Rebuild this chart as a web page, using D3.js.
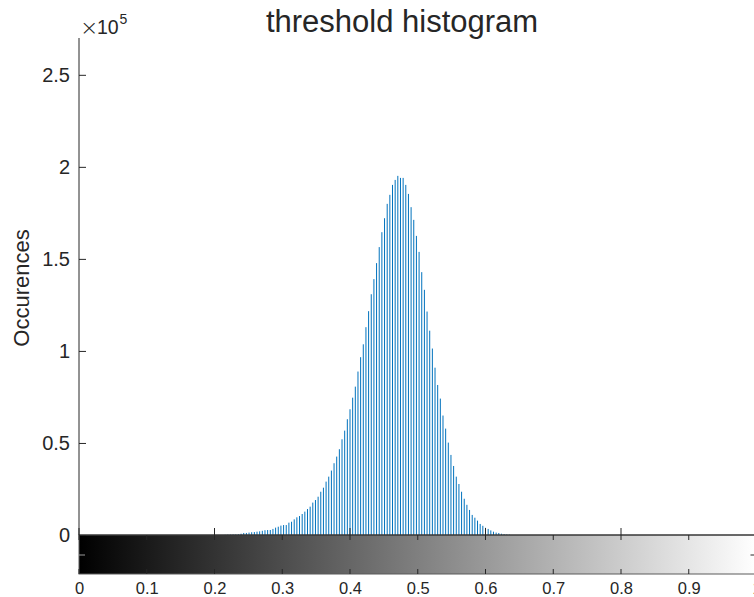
<!DOCTYPE html>
<html>
<head>
<meta charset="utf-8">
<script src="https://cdn.jsdelivr.net/npm/d3@7"></script>
<style>
  html, body { margin: 0; padding: 0; background: #fff; overflow: hidden; }
  svg { display: block; }
  text { font-family: "Liberation Sans", Arial, sans-serif; fill: #262626; }
</style>
</head>
<body>
<svg id="chart" width="754" height="597"></svg>
<script>
// ---- data ----
const title = "threshold histogram";
const yLabel = "Occurences";
const nBins = 256;
const firstBin = 55;           // bin index of the first count below
const counts = [
  100, 200, 200, 300, 300, 400, 700, 1100, 1100, 1300,
  1500, 1600, 1800, 2000, 2300, 2600, 2700, 2700, 3300, 4000,
  4500, 5100, 5400, 5400, 6700, 7200, 8500, 9600, 10300, 11400,
  12700, 14100, 15400, 17600, 19000, 20800, 23500, 25700, 29000, 31700,
  35000, 39000, 42600, 46600, 52000, 56700, 62900, 68300, 74600, 80600,
  88800, 96600, 103600, 112900, 121600, 130800, 139000, 147700, 156400, 164500,
  172100, 179900, 184800, 190200, 192900, 195100, 194000, 194000, 190200, 185300,
  178100, 171200, 162500, 153800, 142800, 133200, 121400, 111000, 101300, 90900,
  81500, 74100, 64900, 57800, 50200, 43500, 37500, 31700, 27700, 23500,
  19700, 16400, 13600, 10900, 9400, 7800, 6000, 5000, 3900, 3300,
  2500, 1800, 1300, 1100, 700, 500, 300, 200
];
const yTicks = [0, 50000, 100000, 150000, 200000, 250000];
const yTickLabels = ["0", "0.5", "1", "1.5", "2", "2.5"];
const yMax = 270000;
const xTicks = [0, 0.1, 0.2, 0.3, 0.4, 0.5, 0.6, 0.7, 0.8, 0.9, 1];
const xTickLabels = ["0", "0.1", "0.2", "0.3", "0.4", "0.5", "0.6", "0.7", "0.8", "0.9", "1"];
const histTicks = [0, 0.2, 0.4, 0.6, 0.8, 1];

(function () {
// ---- layout ----
const svg = d3.select("#chart");
const pLeft = 79, pRight = 756.5, pTop = 38, base = 535, cbBottom = 574;

const x = d3.scaleLinear().domain([0, 1]).range([pLeft, pRight]);
const y = d3.scaleLinear().domain([0, yMax]).range([base, pTop]);

// bars (stems)
const bars = counts.map((c, k) => ({ v: (firstBin + k) / (nBins - 1), c }));
svg.append("g").selectAll("line").data(bars).join("line")
  .attr("x1", d => x(d.v)).attr("x2", d => x(d.v))
  .attr("y1", y(0)).attr("y2", d => y(d.c))
  .attr("stroke", "#0072BD").attr("stroke-width", 1);

// colorbar gradient
const defs = svg.append("defs");
const grad = defs.append("linearGradient").attr("id", "gray")
  .attr("x1", "0%").attr("x2", "100%").attr("y1", "0%").attr("y2", "0%");
grad.append("stop").attr("offset", "0%").attr("stop-color", "#000");
grad.append("stop").attr("offset", "100%").attr("stop-color", "#fff");

svg.append("rect")
  .attr("x", x(0)).attr("y", base)
  .attr("width", x(1) - x(0)).attr("height", cbBottom - base)
  .attr("fill", "url(#gray)")
  .attr("stroke", "#5a5a5a").attr("stroke-width", 1);

// colorbar ticks (top & bottom, inward)
const cbTicks = svg.append("g");
xTicks.forEach(t => {
  cbTicks.append("line").attr("x1", x(t)).attr("x2", x(t))
    .attr("y1", base).attr("y2", base + 5).attr("stroke", "#262626");
  cbTicks.append("line").attr("x1", x(t)).attr("x2", x(t))
    .attr("y1", cbBottom).attr("y2", cbBottom - 5).attr("stroke", "#262626");
});
// colorbar single y tick
cbTicks.append("line").attr("x1", x(0)).attr("x2", x(0) + 6)
  .attr("y1", 555).attr("y2", 555).attr("stroke", "#9a9a9a");
cbTicks.append("line").attr("x1", x(1) - 6).attr("x2", x(1))
  .attr("y1", 555).attr("y2", 555).attr("stroke", "#262626");

// x axis line (top of colorbar) with histogram x ticks pointing up
svg.append("line").attr("x1", x(0)).attr("x2", x(1))
  .attr("y1", base).attr("y2", base).attr("stroke", "#262626").attr("stroke-width", 1.2);
histTicks.forEach(t => {
  svg.append("line").attr("x1", x(t)).attr("x2", x(t))
    .attr("y1", base).attr("y2", base - 7).attr("stroke", "#262626");
});

// x tick labels
const xAxis = d3.axisBottom(x).tickValues(xTicks)
  .tickFormat((d, i) => xTickLabels[i]).tickSize(0).tickPadding(0);
const gx = svg.append("g").attr("transform", `translate(0,${cbBottom + 8})`).call(xAxis);
gx.select(".domain").remove();
gx.selectAll("text").attr("font-size", "16.5px").attr("fill", "#262626")
  .attr("dy", "0.71em").style("font-family", "'Liberation Sans', Arial, sans-serif");

// y axis
const yAxis = d3.axisRight(y).tickValues(yTicks).tickSize(7).tickFormat("");
const gy = svg.append("g").attr("transform", `translate(${pLeft},0)`).call(yAxis);
gy.select(".domain").attr("d", `M0,${pTop}V${base}`).attr("stroke", "#262626");
gy.selectAll(".tick line").attr("stroke", "#262626");
svg.append("g").selectAll("text").data(yTicks).join("text")
  .attr("x", pLeft - 9).attr("y", d => y(d)).attr("dy", "0.36em")
  .attr("text-anchor", "end").attr("font-size", "20px")
  .text((d, i) => yTickLabels[i]);

// exponent ×10^5
svg.append("text").attr("x", 80).attr("y", 35).attr("font-size", "22px")
  .attr("fill", "#555").style("font-family", "'DejaVu Sans', sans-serif")
  .style("font-weight", "200").text("×");
svg.append("text").attr("x", 97).attr("y", 34).attr("font-size", "19.5px").text("10");
svg.append("text").attr("x", 119.5).attr("y", 24).attr("font-size", "14px").text("5");

// title
svg.append("text").attr("x", 402).attr("y", 32).attr("text-anchor", "middle")
  .attr("font-size", "31px").attr("fill", "#000").text(title);

// y label
svg.append("text").attr("transform", `translate(29,288) rotate(-90)`)
  .attr("text-anchor", "middle").attr("font-size", "22px").text(yLabel);
})();
</script>
</body>
</html>
